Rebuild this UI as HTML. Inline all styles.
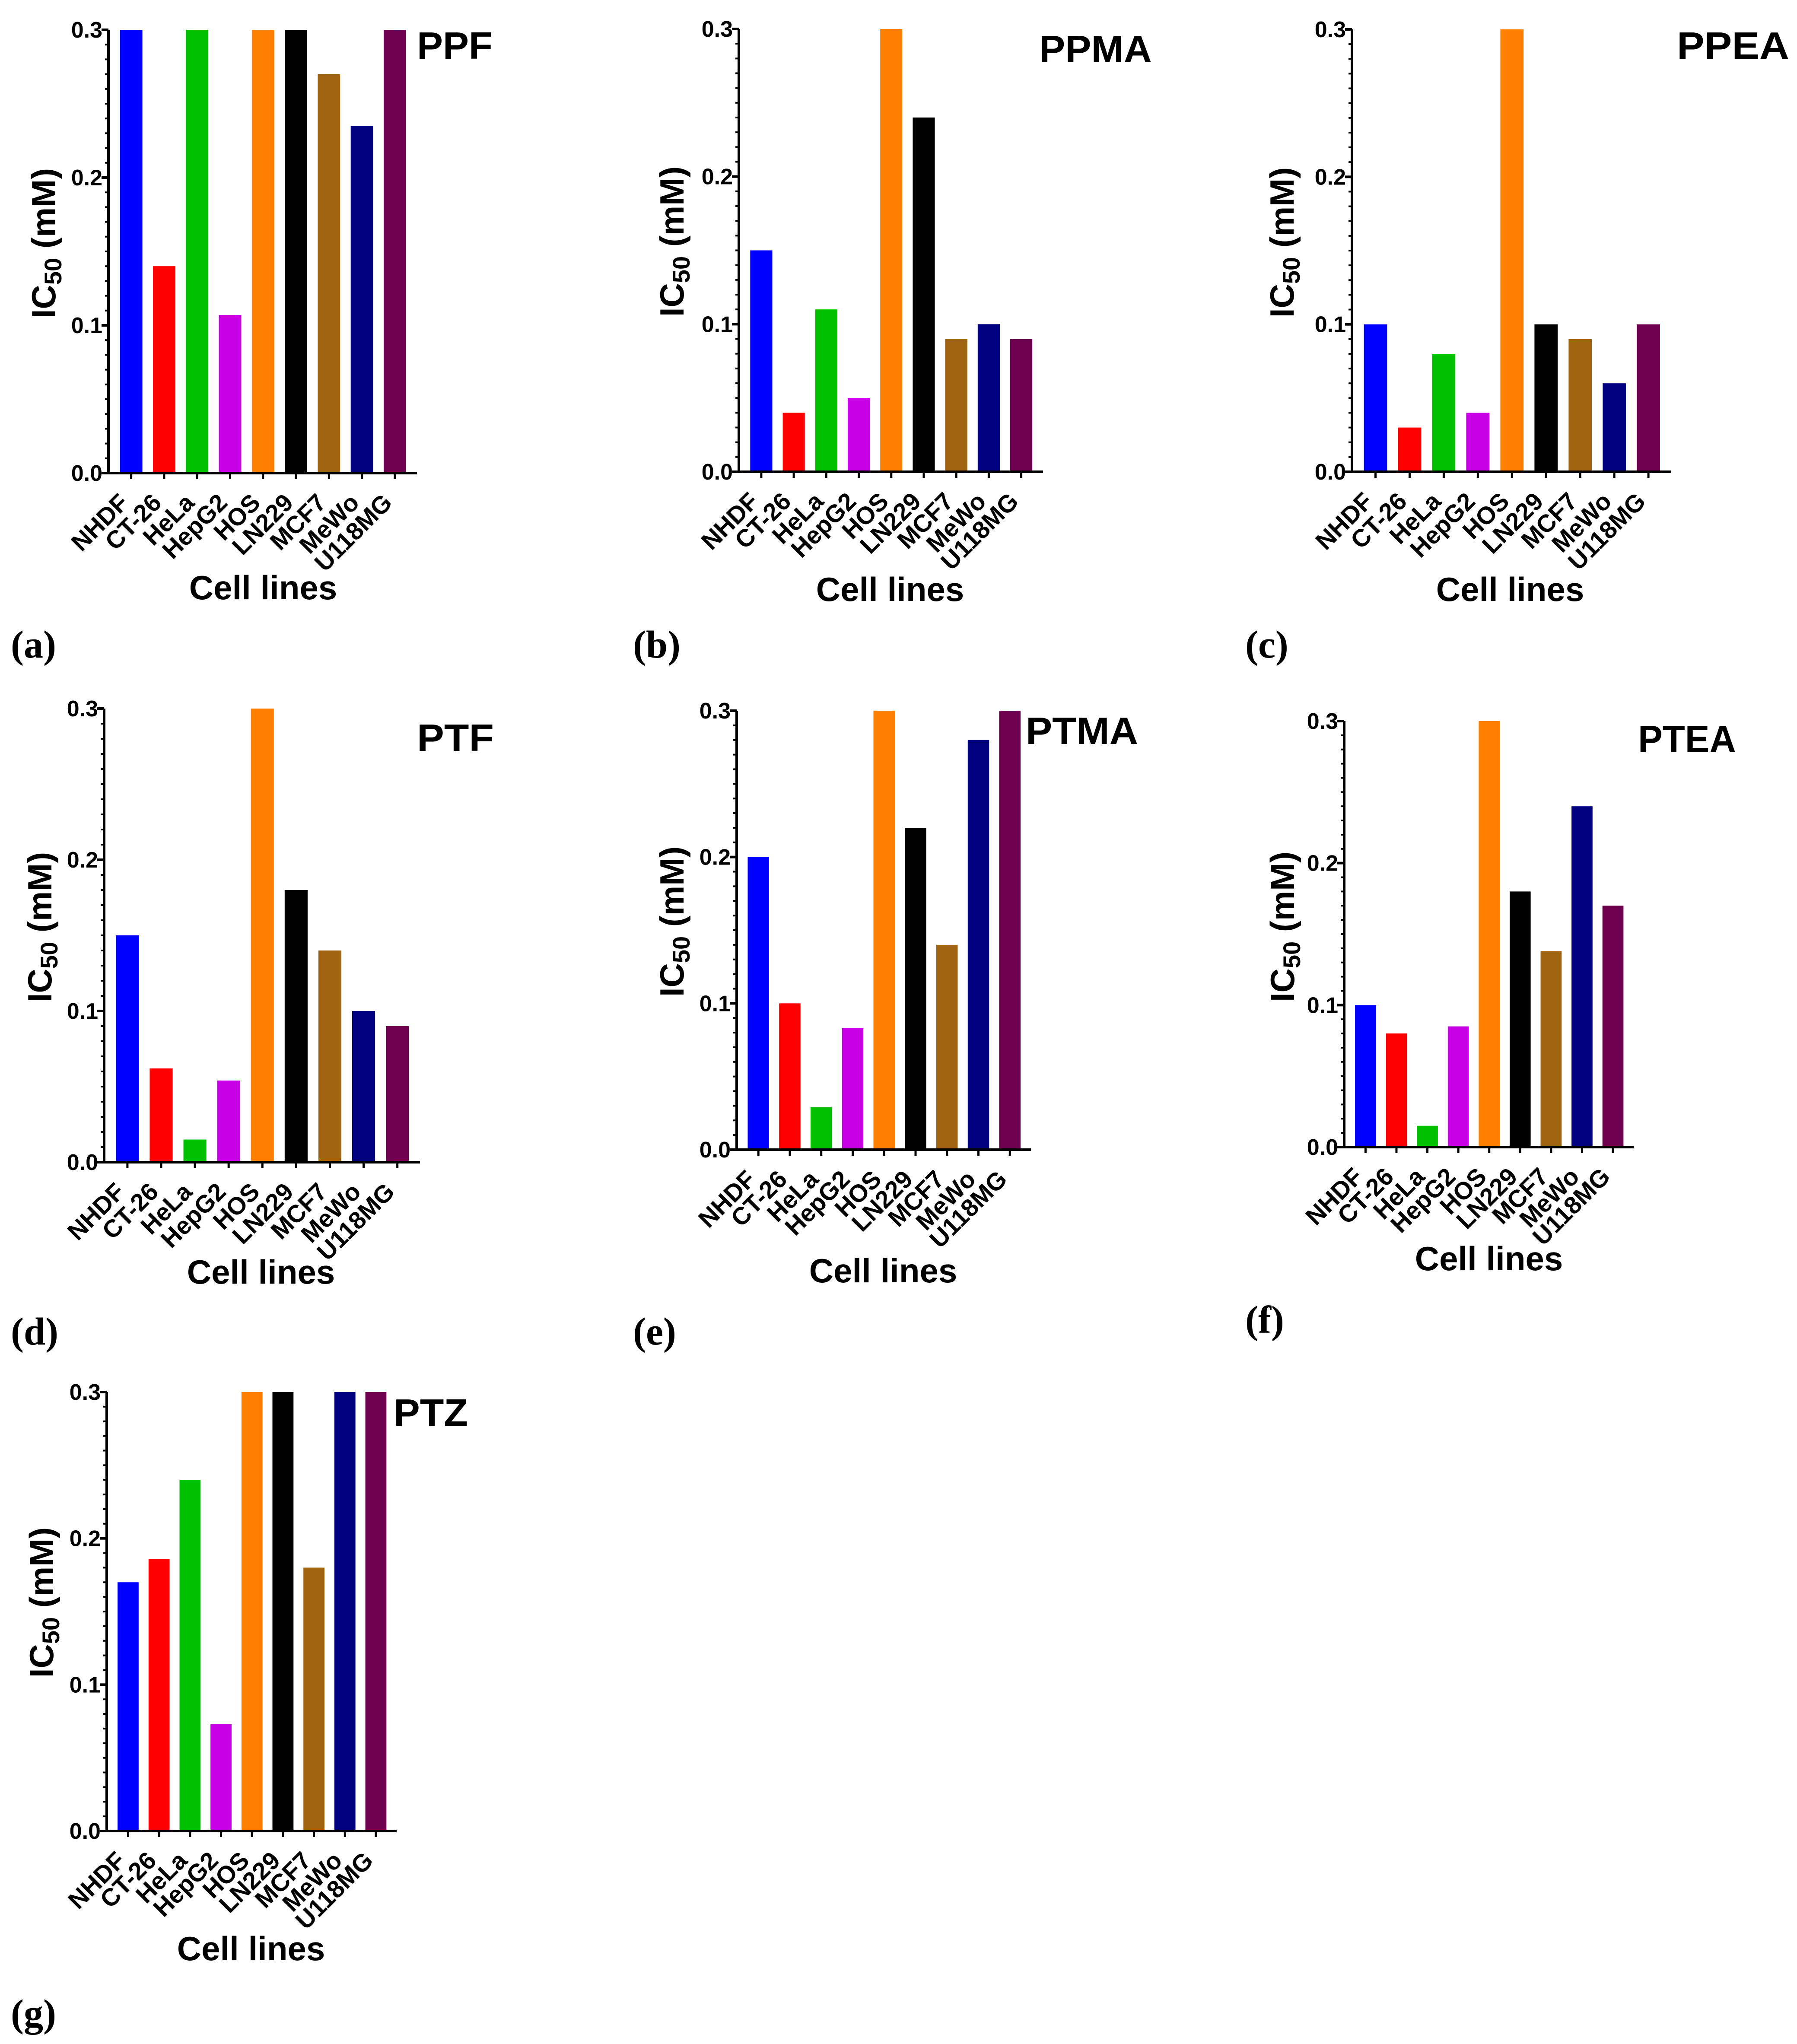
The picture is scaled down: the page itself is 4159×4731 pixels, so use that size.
<!DOCTYPE html>
<html><head><meta charset="utf-8"><style>html,body{margin:0;padding:0;background:#fff}svg{display:block}</style></head>
<body>
<svg id="fig" xmlns="http://www.w3.org/2000/svg" width="4159" height="4731" viewBox="0 0 4159 4731" font-family="Liberation Sans, Arial, sans-serif"></svg>
<script>
const categories = ["NHDF","CT-26","HeLa","HepG2","HOS","LN229","MCF7","MeWo","U118MG"];
const barColors = ["#0000ff","#ff0000","#00c000","#c800e6","#ff8000","#000000","#a0630f","#000080","#6e0050"];
const yTicks = [0, 0.1, 0.2, 0.3];
const yTickLabels = ["0.0","0.1","0.2","0.3"];
const valuesPPF  = [0.3, 0.14, 0.3, 0.107, 0.3, 0.3, 0.27, 0.235, 0.3];
const valuesPPMA = [0.15, 0.04, 0.11, 0.05, 0.3, 0.24, 0.09, 0.1, 0.09];
const valuesPPEA = [0.1, 0.03, 0.08, 0.04, 0.3, 0.1, 0.09, 0.06, 0.1];
const valuesPTF  = [0.15, 0.062, 0.015, 0.054, 0.3, 0.18, 0.14, 0.1, 0.09];
const valuesPTMA = [0.2, 0.1, 0.029, 0.083, 0.3, 0.22, 0.14, 0.28, 0.3];
const valuesPTEA = [0.1, 0.08, 0.015, 0.085, 0.3, 0.18, 0.138, 0.24, 0.17];
const valuesPTZ  = [0.17, 0.186, 0.24, 0.073, 0.3, 0.3, 0.18, 0.3, 0.3];

const NS = "http://www.w3.org/2000/svg";
const svg = document.getElementById("fig");
function mk(tag, attrs, parent, text){
  const e = document.createElementNS(NS, tag);
  for (const k in attrs) e.setAttribute(k, attrs[k]);
  if (text !== undefined) e.textContent = text;
  (parent||svg).appendChild(e);
  return e;
}

const panels = [
  {id:"a", name:"PPF",  vals:valuesPPF,  x0:251,  x1:965,  yTop:69,   yBase:1095, tx:965,  ty:136,  tw:175, ytx:101,  yty:563,  cx:609,  cy:1387, lx:25,   ly:1522},
  {id:"b", name:"PPMA", vals:valuesPPMA, x0:1710, x1:2414, yTop:67,   yBase:1092, tx:2405, ty:144,  tw:261, ytx:1555, yty:559,  cx:2060, cy:1391, lx:1465, ly:1522},
  {id:"c", name:"PPEA", vals:valuesPPEA, x0:3129, x1:3868, yTop:68,   yBase:1092, tx:3881, ty:136,  tw:260, ytx:2967, yty:561,  cx:3495, cy:1391, lx:2882, ly:1522},
  {id:"d", name:"PTF",  vals:valuesPTF,  x0:241,  x1:972,  yTop:1640, yBase:2690, tx:965,  ty:1738, tw:178, ytx:92,   yty:2146, cx:604,  cy:2971, lx:25,   ly:3112},
  {id:"e", name:"PTMA", vals:valuesPTMA, x0:1705, x1:2386, yTop:1645, yBase:2661, tx:2374, ty:1722, tw:260, ytx:1555, yty:2133, cx:2044, cy:2968, lx:1465, ly:3112},
  {id:"f", name:"PTEA", vals:valuesPTEA, x0:3111, x1:3781, yTop:1669, yBase:2655, tx:3791, ty:1741, tw:227, ytx:2968, yty:2145, cx:3446, cy:2940, lx:2882, ly:3085},
  {id:"g", name:"PTZ",  vals:valuesPTZ,  x0:247,  x1:918,  yTop:3222, yBase:4238, tx:911,  ty:3300, tw:172, ytx:96,   yty:3709, cx:581,  cy:4537, lx:25,   ly:4690}
];

panels.forEach(p => {
  const g = mk("g", {});
  
  
  const yScale = v => p.yBase - (v / 0.3) * (p.yBase - p.yTop);
  const step = (p.x1 - p.x0) / 9.36;
  const xCenter = i => p.x0 + (0.69 + i) * step;
  const bw = step * 0.68;

  p.vals.forEach((v, i) => {
    const r = mk("rect", {x: xCenter(i) - bw/2, y: yScale(v), width: bw, height: p.yBase - yScale(v), fill: barColors[i]}, g);
    
    
  });

  for (let k = 0; k <= 30; k++) {
    const v = k / 100;
    const major = (k % 10 === 0);
    const t = mk("line", {x1: p.x0 - (major ? 16 : 8), x2: p.x0, y1: yScale(v), y2: yScale(v), stroke: "#000", "stroke-width": major ? 6 : 4}, g);
    
    
  }
  yTicks.forEach((v, i) => {
    const t = mk("text", {x: p.x0 - 14, y: yScale(v) + 18, "text-anchor": "end", "font-size": 52, "font-weight": "bold"}, g, yTickLabels[i]);
    
    
  });
  const ya = mk("line", {x1: p.x0, x2: p.x0, y1: p.yTop, y2: p.yBase + 3, stroke: "#000", "stroke-width": 6}, g);
  
  
  const xa = mk("line", {x1: p.x0 - 3, x2: p.x1, y1: p.yBase, y2: p.yBase, stroke: "#000", "stroke-width": 6}, g);
  
  

  categories.forEach((c, i) => {
    const x = xCenter(i);
    const t = mk("line", {x1: x, x2: x, y1: p.yBase, y2: p.yBase + 14, stroke: "#000", "stroke-width": 5}, g);
    
    
    const lx = x - 3, ly = p.yBase + 72;
    const l = mk("text", {x: lx, y: ly, "text-anchor": "end", "font-size": 57, "font-weight": "bold", transform: "rotate(-45 " + lx + " " + ly + ")"}, g, c);
    
    
  });

  const tt = mk("text", {x: p.tx, y: p.ty, "font-size": 88, "font-weight": "bold", textLength: p.tw, lengthAdjust: "spacingAndGlyphs"}, g, p.name);
  
  

  const bx = p.ytx + 27;
  const yt = mk("text", {x: bx, y: p.yty, "text-anchor": "middle", "font-size": 78, "font-weight": "bold", transform: "rotate(-90 " + bx + " " + p.yty + ")"}, g);
  
  
  mk("tspan", {}, yt, "IC");
  mk("tspan", {"font-size": 56, dy: 14}, yt, "50");
  mk("tspan", {dy: -14}, yt, " (mM)");

  const xt = mk("text", {x: p.cx, y: p.cy, "text-anchor": "middle", "font-size": 78, "font-weight": "bold"}, g, "Cell lines");
  
  

  const pl = mk("text", {x: p.lx, y: p.ly, "font-size": 90, "font-weight": "bold", "font-family": "Liberation Serif, serif"}, g, "(" + p.id + ")");
  
  
});
</script>
</body></html>
